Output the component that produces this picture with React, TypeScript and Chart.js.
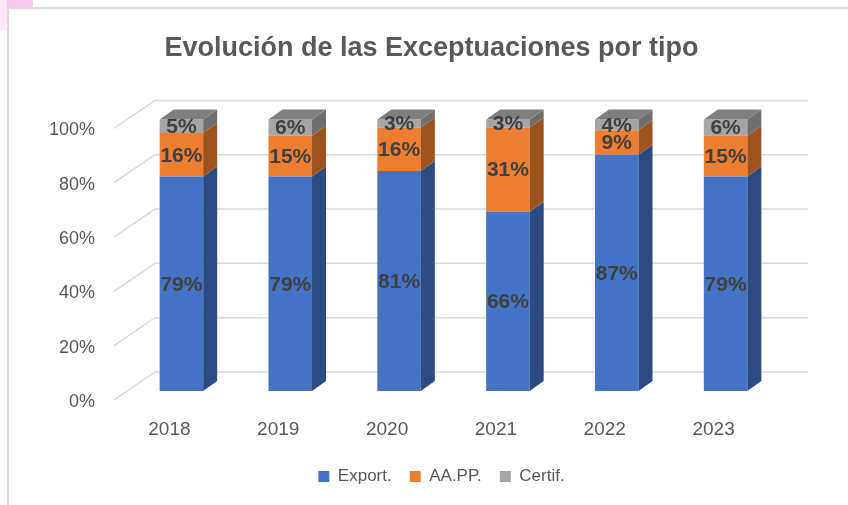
import React, { useEffect, useRef } from "react";
import { Chart, registerables } from "chart.js";

Chart.register(...registerables);

const years = ["2018", "2019", "2020", "2021", "2022", "2023"];
const exportVals = [79, 79, 81, 66, 87, 79];
const aappVals = [16, 15, 16, 31, 9, 15];
const certifVals = [5, 6, 3, 3, 4, 6];
const seriesNames = ["Export.", "AA.PP.", "Certif."];
const yTicks = [0, 20, 40, 60, 80, 100];
const titleText = "Evolución de las Exceptuaciones por tipo";

const frontColors = ["#4472C4", "#ED7D31", "#A5A5A5"];
const sideColors = ["#2C4B82", "#9E531F", "#6F6F6F"];
const topColor = "#7F7F7F";
const FONT = "'Liberation Sans', Arial, sans-serif";

const WALL_DX = 40;
const WALL_DY = -28;
const BAR_DX = 12;
const BAR_DY = -9;
const DEPTH_DX = 14;
const DEPTH_DY = -10;

const threeD = {
  id: "threeD",
  beforeDatasetsDraw(chart: any) {
    const { ctx, chartArea, scales } = chart;
    const ys = scales.y;
    ctx.save();
    ctx.strokeStyle = "#D9D9D9";
    ctx.lineWidth = 1.5;
    for (const v of yTicks) {
      const py = ys.getPixelForValue(v);
      ctx.beginPath();
      ctx.moveTo(chartArea.left - 1, py);
      ctx.lineTo(chartArea.left + WALL_DX, py + WALL_DY);
      ctx.lineTo(chartArea.right + WALL_DX, py + WALL_DY);
      ctx.stroke();
    }
    ctx.restore();
    ctx.save();
    ctx.translate(BAR_DX, BAR_DY);
  },
  afterDatasetsDraw(chart: any) {
    const { ctx } = chart;
    const n = chart.data.datasets.length;
    for (let di = 0; di < n; di++) {
      const meta = chart.getDatasetMeta(di);
      meta.data.forEach((bar: any) => {
        const p = bar.getProps(["x", "y", "base", "width"], true);
        const l = p.x - p.width / 2;
        const r = p.x + p.width / 2;
        const top = Math.min(p.y, p.base);
        const bot = Math.max(p.y, p.base);
        ctx.fillStyle = sideColors[di];
        ctx.beginPath();
        ctx.moveTo(r, bot);
        ctx.lineTo(r, top);
        ctx.lineTo(r + DEPTH_DX, top + DEPTH_DY);
        ctx.lineTo(r + DEPTH_DX, bot + DEPTH_DY);
        ctx.closePath();
        ctx.fill();
        if (di === n - 1) {
          ctx.fillStyle = topColor;
          ctx.beginPath();
          ctx.moveTo(l, top);
          ctx.lineTo(r, top);
          ctx.lineTo(r + DEPTH_DX, top + DEPTH_DY);
          ctx.lineTo(l + DEPTH_DX, top + DEPTH_DY);
          ctx.closePath();
          ctx.fill();
        }
      });
    }
    ctx.fillStyle = "#404040";
    ctx.font = `bold 21px ${FONT}`;
    ctx.textAlign = "center";
    ctx.textBaseline = "middle";
    for (let di = 0; di < n; di++) {
      const meta = chart.getDatasetMeta(di);
      const data = chart.data.datasets[di].data;
      meta.data.forEach((bar: any, i: number) => {
        const p = bar.getProps(["x", "y", "base"], true);
        ctx.fillText(`${data[i]}%`, p.x, (p.y + p.base) / 2 + 1);
      });
    }
    ctx.restore();
  },
};

export default function App() {
  const ref = useRef<HTMLCanvasElement | null>(null);

  useEffect(() => {
    if (!ref.current) return;
    const seriesData = [exportVals, aappVals, certifVals];
    const chart = new Chart(ref.current, {
      type: "bar",
      data: {
        labels: years,
        datasets: seriesNames.map((name, i) => ({
          label: name,
          data: seriesData[i],
          backgroundColor: frontColors[i],
          borderWidth: 0,
          categoryPercentage: 1,
          barPercentage: 0.4,
          clip: false as any,
          yAxisID: "y",
        })),
      },
      options: {
        responsive: false,
        animation: false,
        devicePixelRatio: 1,
        layout: { padding: { left: 15, right: 0, top: 0, bottom: 10 } },
        plugins: {
          title: {
            display: true,
            text: titleText,
            color: "#595959",
            font: { family: FONT, size: 27, weight: "bold" },
            padding: { top: 32, bottom: 64 },
          },
          legend: {
            display: true,
            position: "bottom",
            fullSize: false,
            labels: {
              color: "#595959",
              font: { family: FONT, size: 17 },
              boxWidth: 11,
              boxHeight: 11,
              padding: 18,
            },
          },
          tooltip: { enabled: false },
        },
        scales: {
          x: {
            stacked: true,
            grid: { display: false, drawTicks: false },
            border: { display: false },
            ticks: { color: "#595959", font: { family: FONT, size: 19 }, padding: 18 },
            afterFit: (s: any) => {
              s.height = 50;
            },
          },
          y: {
            stacked: true,
            position: "left",
            min: 0,
            max: 100,
            grid: { display: false, drawTicks: false },
            border: { display: false },
            ticks: {
              stepSize: 20,
              color: "#595959",
              font: { family: FONT, size: 18 },
              padding: 20,
              labelOffset: 2,
              callback: (v: any) => `${v}%`,
            },
            afterFit: (s: any) => {
              s.width = 100;
            },
          },
          y2: {
            position: "right",
            display: true,
            grid: { display: false, drawTicks: false },
            border: { display: false },
            ticks: { display: false },
            afterFit: (s: any) => {
              s.width = 80;
            },
          },
        },
      },
      plugins: [threeD],
    });
    return () => chart.destroy();
  }, []);

  return (
    <div style={{ position: "absolute", left: 0, top: 0, width: 848, height: 505, background: "#fff", overflow: "hidden" }}>
      <div style={{ position: "absolute", left: 0, top: 0, width: 33, height: 7, background: "#FFC8EA" }} />
      <div style={{ position: "absolute", left: 0, top: 0, width: 7, height: 30, background: "#FFE6F6" }} />
      <div
        style={{
          position: "absolute",
          left: 7,
          top: 7,
          width: 900,
          height: 600,
          border: "2px solid #D9D9D9",
          boxSizing: "border-box",
        }}
      />
      <canvas ref={ref} width={848} height={505} style={{ position: "absolute", left: 0, top: 0 }} />
    </div>
  );
}
